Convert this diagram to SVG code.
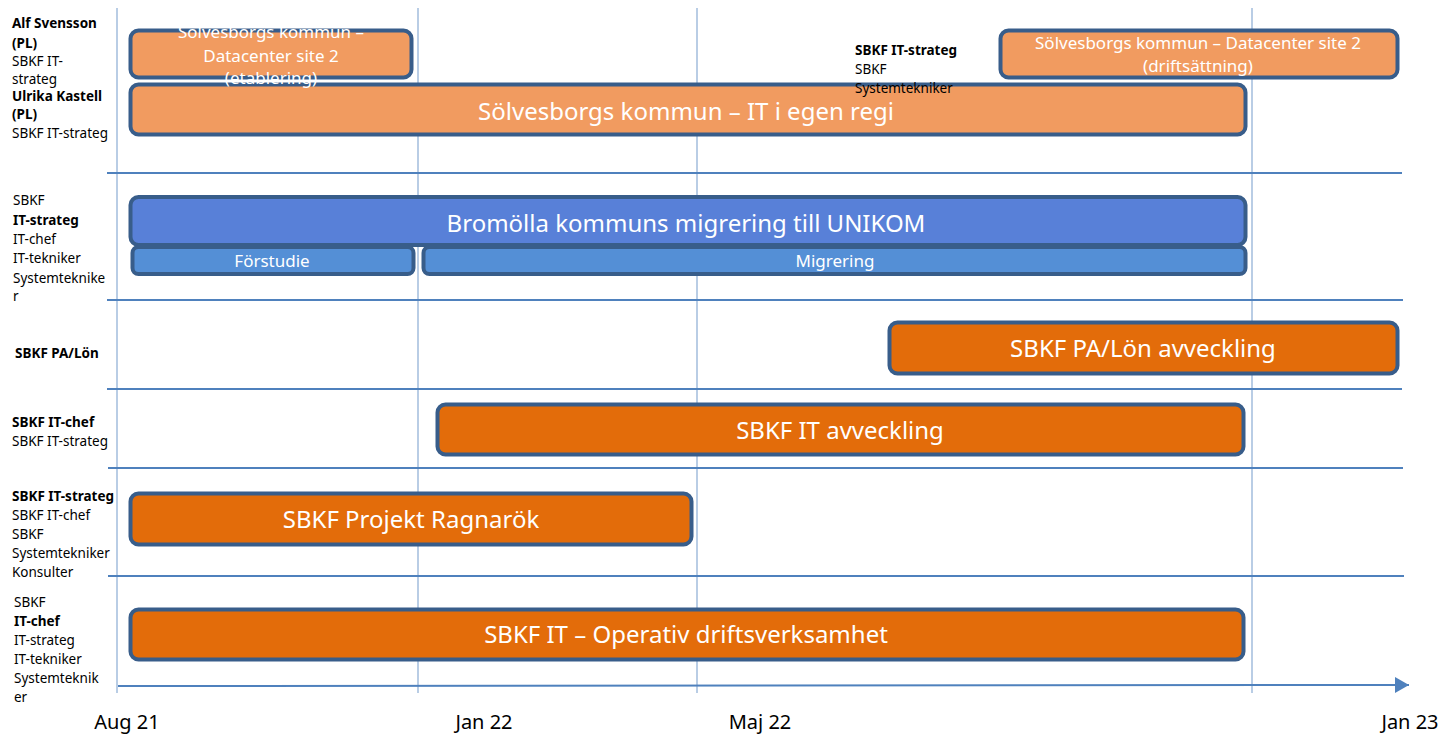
<svg xmlns="http://www.w3.org/2000/svg" width="1451" height="735" viewBox="0 0 1451 735">
<style>
  text { font-family: "Noto Sans", "Open Sans", sans-serif; }
  .lbl { font-size: 13.5px; fill: #000; }
  .b { font-weight: bold; }
  .ax { font-size: 20px; fill: #000; text-anchor: middle; }
  .bar { stroke: #385D8A; stroke-width: 4; }
  .lo { fill: #F19B60; }
  .do { fill: #E36C0A; }
  .bl { fill: #5880D8; }
  .bl2 { fill: #548FD6; }
  .tx { fill: #fff; text-anchor: middle; }
  .big { font-size: 24px; }
  .sm { font-size: 17px; }
  .grid { stroke: #B9CDE5; stroke-width: 2; }
  .sep { stroke: #4F81BD; stroke-width: 2; }
</style>
<defs>
  <marker id="arr" viewBox="0 0 14 16" refX="14" refY="8" markerWidth="14" markerHeight="16" markerUnits="userSpaceOnUse" orient="auto">
    <path d="M0,0 L14,8 L0,16 Z" fill="#4F81BD"/>
  </marker>
</defs>
<rect width="1451" height="735" fill="#fff"/>
<g id="grid">
  <line class="grid" x1="117" y1="8" x2="117" y2="693"/>
  <line class="grid" x1="418" y1="8" x2="418" y2="693"/>
  <line class="grid" x1="697" y1="8" x2="697" y2="693"/>
  <line class="grid" x1="1252" y1="8" x2="1252" y2="693"/>
</g>
<g id="connectors">
  <line class="sep" x1="107" y1="173" x2="1402" y2="173"/>
  <line class="sep" x1="107" y1="300" x2="1403" y2="300"/>
  <line class="sep" x1="107" y1="389" x2="1402" y2="389"/>
  <line class="sep" x1="108" y1="468" x2="1403" y2="468"/>
  <line class="sep" x1="108" y1="576" x2="1404" y2="576"/>
  <line class="sep" x1="118" y1="686" x2="1409" y2="685" marker-end="url(#arr)"/>
</g>
<g id="it-egen-regi">
  <rect class="bar lo" x="130.5" y="84.5" width="1115" height="50" rx="8"/>
  <text class="tx big" x="686" y="120">Sölvesborgs kommun – IT i egen regi</text>
</g>
<g id="dc-etablering">
  <rect class="bar lo" x="130.5" y="30.5" width="281" height="47" rx="8"/>
  <text class="tx sm" x="271" y="38">Sölvesborgs kommun –</text>
  <text class="tx sm" x="271" y="61.5">Datacenter site 2</text>
  <text class="tx sm" x="271" y="84">(etablering)</text>
</g>
<g id="dc-driftsattning">
  <rect class="bar lo" x="1000.5" y="30.5" width="397" height="47" rx="8"/>
  <text class="tx sm" x="1198" y="49">Sölvesborgs kommun – Datacenter site 2</text>
  <text class="tx sm" x="1198" y="72">(driftsättning)</text>
</g>
<g id="bromolla">
  <rect class="bar bl" x="130.5" y="197" width="1115" height="48" rx="8"/>
  <text class="tx big" x="686" y="232">Bromölla kommuns migrering till UNIKOM</text>
</g>
<g id="forstudie">
  <rect class="bar bl2" x="132.5" y="247" width="281" height="27" rx="6"/>
  <text class="tx sm" x="272" y="267">Förstudie</text>
</g>
<g id="migrering">
  <rect class="bar bl2" x="423.5" y="247" width="822" height="27" rx="6"/>
  <text class="tx sm" x="835" y="267">Migrering</text>
</g>
<g id="pa-lon">
  <rect class="bar do" x="889.5" y="322.5" width="508" height="51" rx="8"/>
  <text class="tx big" x="1143" y="357">SBKF PA/Lön avveckling</text>
</g>
<g id="it-avveckling">
  <rect class="bar do" x="437.5" y="404.5" width="806" height="50" rx="8"/>
  <text class="tx big" x="840" y="439">SBKF IT avveckling</text>
</g>
<g id="ragnarok">
  <rect class="bar do" x="130.5" y="493.5" width="561" height="51" rx="8"/>
  <text class="tx big" x="411" y="528">SBKF Projekt Ragnarök</text>
</g>
<g id="operativ">
  <rect class="bar do" x="130.5" y="609.5" width="1113" height="50" rx="8"/>
  <text class="tx big" x="686" y="643">SBKF IT – Operativ driftsverksamhet</text>
</g>
<g id="labels-row1">
  <text class="lbl b" x="12" y="28">Alf Svensson</text>
  <text class="lbl b" x="12" y="47.5">(PL)</text>
  <text class="lbl" x="12" y="66">SBKF IT-</text>
  <text class="lbl" x="12" y="84">strateg</text>
  <text class="lbl b" x="12" y="101">Ulrika Kastell</text>
  <text class="lbl b" x="12" y="119">(PL)</text>
  <text class="lbl" x="12" y="138">SBKF IT-strateg</text>
</g>
<g id="labels-row1-right">
  <text class="lbl b" x="855" y="55">SBKF IT-strateg</text>
  <text class="lbl" x="855" y="74">SBKF</text>
  <text class="lbl" x="855" y="93">Systemtekniker</text>
</g>
<g id="labels-row2">
  <text class="lbl" x="13" y="205">SBKF</text>
  <text class="lbl b" x="13" y="225">IT-strateg</text>
  <text class="lbl" x="13" y="244">IT-chef</text>
  <text class="lbl" x="13" y="263">IT-tekniker</text>
  <text class="lbl" x="13" y="283">Systemteknike</text>
  <text class="lbl" x="13" y="301">r</text>
</g>
<g id="labels-row3">
  <text class="lbl b" x="15" y="358">SBKF PA/Lön</text>
</g>
<g id="labels-row4">
  <text class="lbl b" x="12" y="427">SBKF IT-chef</text>
  <text class="lbl" x="12" y="446">SBKF IT-strateg</text>
</g>
<g id="labels-row5">
  <text class="lbl b" x="12" y="501">SBKF IT-strateg</text>
  <text class="lbl" x="12" y="520">SBKF IT-chef</text>
  <text class="lbl" x="12" y="539">SBKF</text>
  <text class="lbl" x="12" y="558">Systemtekniker</text>
  <text class="lbl" x="12" y="577">Konsulter</text>
</g>
<g id="labels-row6">
  <text class="lbl" x="14" y="607">SBKF</text>
  <text class="lbl b" x="14" y="626">IT-chef</text>
  <text class="lbl" x="14" y="645">IT-strateg</text>
  <text class="lbl" x="14" y="664">IT-tekniker</text>
  <text class="lbl" x="14" y="683">Systemteknik</text>
  <text class="lbl" x="14" y="702">er</text>
</g>
<g id="axis-labels">
  <text class="ax" x="127" y="729">Aug 21</text>
  <text class="ax" x="484" y="729">Jan 22</text>
  <text class="ax" x="760" y="729">Maj 22</text>
  <text class="ax" x="1410" y="729">Jan 23</text>
</g>
</svg>
